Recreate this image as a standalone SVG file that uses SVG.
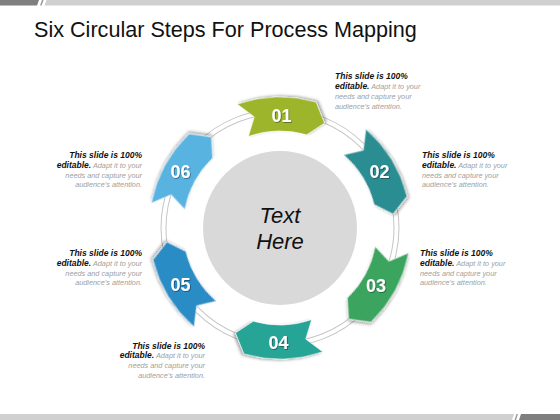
<svg xmlns="http://www.w3.org/2000/svg" width="560" height="420" viewBox="0 0 560 420">
<defs>
<style>
.title{font-family:"Liberation Sans",Arial,sans-serif;font-size:21.6px;fill:#111}
.num{font-family:"Liberation Sans",Arial,sans-serif;font-weight:bold;font-size:18px;fill:#fff;text-anchor:middle}
.ctr{font-family:"Liberation Sans",Arial,sans-serif;font-style:italic;font-size:22px;fill:#111;text-anchor:middle}
.d{font-family:"Liberation Sans",Arial,sans-serif;font-style:italic}
.b{font-weight:bold;font-size:8.5px;fill:#111}
.g{font-size:7.3px;fill:#a0a0a0}
.e{text-anchor:end}
.arw{stroke:#ffffff;stroke-width:0.8;stroke-opacity:0.7}
</style>
<path id="arrow" d="M123.86,-42.65 A131,131 0 0 1 125.93,36.10 L104.94,44.54 L93.25,26.73 A97,97 0 0 0 91.71,-31.58 L111.08,-25.65 Z"/>
<filter id="sh" x="-20%" y="-20%" width="140%" height="140%">
<feDropShadow dx="1" dy="2" stdDeviation="1.5" flood-color="#000" flood-opacity="0.35"/>
</filter>
<filter id="tsh" x="-20%" y="-20%" width="140%" height="140%">
<feDropShadow dx="0.8" dy="0.8" stdDeviation="0.5" flood-color="#000" flood-opacity="0.45"/>
</filter>
</defs>
<rect width="560" height="420" fill="#ffffff"/>
<polygon points="0,0 39,0 37,5.4 0,5.4" fill="#7f7f7f"/>
<polygon points="42,0 43.6,0 41.6,5.4 40,5.4" fill="#9a9a9a"/>
<polygon points="46.5,0 560,0 560,5.4 44.5,5.4" fill="#d0d0d0"/>
<polygon points="0,414 514,414 512,420 0,420" fill="#d0d0d0"/>
<polygon points="516.5,414 518,414 516,420 514.5,420" fill="#9a9a9a"/>
<polygon points="521,414 560,414 560,420 519,420" fill="#7f7f7f"/>
<text class="title" x="34" y="37">Six Circular Steps For Process Mapping</text>
<g id="connectors">
<circle cx="280" cy="228" r="116.5" fill="none" stroke="#c6c6c6" stroke-width="6"/>
<circle cx="280" cy="228" r="116.5" fill="none" stroke="#ffffff" stroke-width="4"/>
</g>
<g id="center">
<circle cx="280" cy="228" r="77" fill="#d9d9d9"/>
<text class="ctr" x="280" y="223">Text</text>
<text class="ctr" x="280" y="249">Here</text>
</g>
<g id="step-01">
<use href="#arrow" transform="translate(280,228) rotate(-90)" fill="#9cb52b" class="arw" filter="url(#sh)"/>
<text class="num" x="281.5" y="121.5" filter="url(#tsh)">01</text>
<text class="d" x="335" y="78.5"><tspan class="b">This slide is 100%</tspan></text>
<text class="d" x="335" y="88.7"><tspan class="b">editable.</tspan><tspan class="g"> Adapt it to your</tspan></text>
<text class="d g" x="335" y="98.9">needs and capture your</text>
<text class="d g" x="335" y="109.1">audience’s attention.</text>
</g>
<g id="step-02">
<use href="#arrow" transform="translate(280,228) rotate(-30)" fill="#2c8d91" class="arw" filter="url(#sh)"/>
<text class="num" x="379.5" y="178" filter="url(#tsh)">02</text>
<text class="d" x="422" y="158"><tspan class="b">This slide is 100%</tspan></text>
<text class="d" x="422" y="167.8"><tspan class="b">editable.</tspan><tspan class="g"> Adapt it to your</tspan></text>
<text class="d g" x="422" y="177.6">needs and capture your</text>
<text class="d g" x="422" y="187.4">audience’s attention.</text>
</g>
<g id="step-03">
<use href="#arrow" transform="translate(280,228) rotate(30)" fill="#3aa55f" class="arw" filter="url(#sh)"/>
<text class="num" x="376" y="291.5" filter="url(#tsh)">03</text>
<text class="d" x="420" y="256"><tspan class="b">This slide is 100%</tspan></text>
<text class="d" x="420" y="265.8"><tspan class="b">editable.</tspan><tspan class="g"> Adapt it to your</tspan></text>
<text class="d g" x="420" y="275.6">needs and capture your</text>
<text class="d g" x="420" y="285.4">audience’s attention.</text>
</g>
<g id="step-04">
<use href="#arrow" transform="translate(280,228) rotate(90)" fill="#26a597" class="arw" filter="url(#sh)"/>
<text class="num" x="278.5" y="348.5" filter="url(#tsh)">04</text>
<text class="d e" x="205" y="348.5"><tspan class="b">This slide is 100%</tspan></text>
<text class="d e" x="205" y="358.3"><tspan class="b">editable.</tspan><tspan class="g"> Adapt it to your</tspan></text>
<text class="d g e" x="205" y="368.1">needs and capture your</text>
<text class="d g e" x="205" y="377.9">audience’s attention.</text>
</g>
<g id="step-05">
<use href="#arrow" transform="translate(280,228) rotate(150)" fill="#2a8cc5" class="arw" filter="url(#sh)"/>
<text class="num" x="180.5" y="290.5" filter="url(#tsh)">05</text>
<text class="d e" x="142" y="256"><tspan class="b">This slide is 100%</tspan></text>
<text class="d e" x="142" y="265.8"><tspan class="b">editable.</tspan><tspan class="g"> Adapt it to your</tspan></text>
<text class="d g e" x="142" y="275.6">needs and capture your</text>
<text class="d g e" x="142" y="285.4">audience’s attention.</text>
</g>
<g id="step-06">
<use href="#arrow" transform="translate(280,228) rotate(210)" fill="#58b3e1" class="arw" filter="url(#sh)"/>
<text class="num" x="180.5" y="178" filter="url(#tsh)">06</text>
<text class="d e" x="142" y="158"><tspan class="b">This slide is 100%</tspan></text>
<text class="d e" x="142" y="167.8"><tspan class="b">editable.</tspan><tspan class="g"> Adapt it to your</tspan></text>
<text class="d g e" x="142" y="177.6">needs and capture your</text>
<text class="d g e" x="142" y="187.4">audience’s attention.</text>
</g>
</svg>
